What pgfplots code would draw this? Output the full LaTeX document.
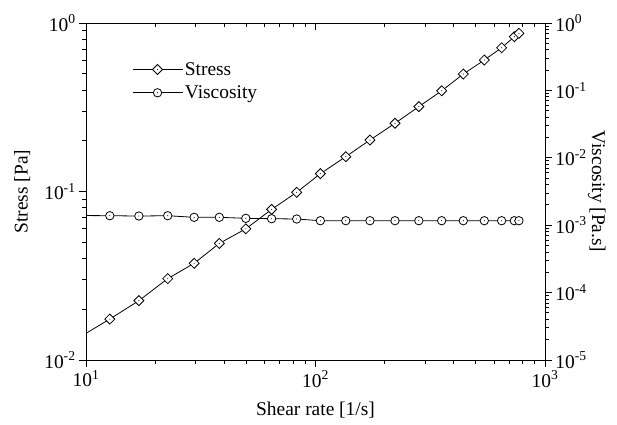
\documentclass[border=0pt]{standalone}
\usepackage{pgfplots}
\pgfplotsset{compat=1.18}
\usepackage{fontspec}
\setmainfont{Liberation Serif}
\pgfdeclareplotmark{ddiamond}{%
  \pgfpathmoveto{\pgfqpoint{0pt}{\pgfplotmarksize}}%
  \pgfpathlineto{\pgfqpoint{\pgfplotmarksize}{0pt}}%
  \pgfpathlineto{\pgfqpoint{0pt}{-\pgfplotmarksize}}%
  \pgfpathlineto{\pgfqpoint{-\pgfplotmarksize}{0pt}}%
  \pgfpathclose
  \pgfusepathqfillstroke
  \pgfscope\pgfsetfillcolor{black}%
  \pgfpathcircle{\pgfpointorigin}{0.55pt}\pgfusepathqfill
  \endpgfscope}
\pgfdeclareplotmark{dcircle}{%
  \pgfpathcircle{\pgfpointorigin}{\pgfplotmarksize}%
  \pgfusepathqfillstroke
  \pgfscope\pgfsetfillcolor{black}%
  \pgfpathcircle{\pgfpointorigin}{0.55pt}\pgfusepathqfill
  \endpgfscope}
\pgfplotstableread{
x stress visc
12.7 0.0175 1.383e-3
17.0 0.0225 1.368e-3
22.7 0.0304 1.383e-3
29.6 0.0375 1.309e-3
38.1 0.0492 1.309e-3
49.7 0.0601 1.265e-3
64.4 0.0783 1.248e-3
82.8 0.0989 1.236e-3
105 0.1276 1.166e-3
135.5 0.161 1.166e-3
172.7 0.202 1.166e-3
222 0.254 1.166e-3
282 0.319 1.166e-3
354.6 0.396 1.166e-3
440.6 0.498 1.166e-3
544 0.603 1.166e-3
647 0.713 1.166e-3
735 0.829 1.166e-3
770 0.868 1.166e-3
}\data
\pgfplotstableread{
x stress visc
10 0.0144 1.39e-3
12.7 0.0175 1.383e-3
17.0 0.0225 1.368e-3
22.7 0.0304 1.383e-3
29.6 0.0375 1.309e-3
38.1 0.0492 1.309e-3
49.7 0.0601 1.265e-3
64.4 0.0783 1.248e-3
82.8 0.0989 1.236e-3
105 0.1276 1.166e-3
135.5 0.161 1.166e-3
172.7 0.202 1.166e-3
222 0.254 1.166e-3
282 0.319 1.166e-3
354.6 0.396 1.166e-3
440.6 0.498 1.166e-3
544 0.603 1.166e-3
647 0.713 1.166e-3
735 0.829 1.166e-3
770 0.868 1.166e-3
}\linedata
\newcommand\bigf{\fontsize{19.5}{22}\selectfont}
\pgfplotsset{
  myaxis/.style={
    at={(0bp,0bp)}, anchor=south west,
    scale only axis, width=459bp, height=337bp,
    xmin=10, xmax=1000,
    major tick length=7bp, minor tick length=4bp,
    tick style={draw=black, line width=0.9pt},
    axis line style={line width=0.9pt},
    tick label style={font=\bigf},
    minor xtick={20,30,40,50,60,70,80,90,200,300,400,500,600,700,800,900},
  },
}
\begin{document}
\begin{tikzpicture}
\useasboundingbox (-86bp,-65bp) rectangle (531bp,360bp);
\begin{axis}[myaxis, xmode=log,
  ymode=log, ymin=0.01, ymax=1,
  axis x line*=bottom, axis y line*=left,
  tick align=outside,
  xtick={10,100,1000},
  xticklabels={10\textsuperscript{1},10\textsuperscript{2},10\textsuperscript{3}},
  ytick={0.01,0.1,1},
  minor ytick={0.02,0.03,0.04,0.05,0.06,0.07,0.08,0.09,0.2,0.3,0.4,0.5,0.6,0.7,0.8,0.9},
  yticklabels={10\textsuperscript{-2},10\textsuperscript{-1},10\textsuperscript{0}},
  xlabel={Shear rate [1/s]}, ylabel={Stress [Pa]},
  every axis x label/.style={at={(axis description cs:0.5,-0.148)}, anchor=center, font=\bigf},
  every axis y label/.style={at={(axis description cs:-0.139,0.5)}, anchor=center, rotate=90, font=\bigf},
]
\addplot[black, line width=0.8pt, mark=none] table[x=x,y=stress] {\linedata};
\addplot[only marks, mark=ddiamond, mark size=5bp, mark options={fill=white, line width=0.8pt}] table[x=x,y=stress] {\data};
\end{axis}
\begin{axis}[myaxis, xmode=log,
  ymode=log, ymin=1e-5, ymax=1,
  axis x line=none, axis y line*=right,
  tick align=outside,
  ytick={1e-5,1e-4,1e-3,1e-2,1e-1,1},
  minor ytick={2e-5,3e-5,4e-5,5e-5,6e-5,7e-5,8e-5,9e-5,2e-4,3e-4,4e-4,5e-4,6e-4,7e-4,8e-4,9e-4,2e-3,3e-3,4e-3,5e-3,6e-3,7e-3,8e-3,9e-3,2e-2,3e-2,4e-2,5e-2,6e-2,7e-2,8e-2,9e-2,0.2,0.3,0.4,0.5,0.6,0.7,0.8,0.9},
  yticklabels={10\textsuperscript{-5},10\textsuperscript{-4},10\textsuperscript{-3},10\textsuperscript{-2},10\textsuperscript{-1},10\textsuperscript{0}},
  ylabel={Viscosity [Pa.s]},
  every axis y label/.style={at={(axis description cs:1.113,0.5)}, anchor=center, rotate=-90, font=\bigf},
  legend style={draw=none, fill=none, at={(axis description cs:0.10,0.89)}, anchor=north west,
    font=\bigf, row sep=5bp, inner sep=0pt},
  legend cell align=left,
  legend image code/.code={\draw[mark repeat=2,mark phase=2,#1] plot coordinates {(0bp,0bp) (25bp,0bp) (50bp,0bp)};},
]
\addlegendimage{black, line width=0.8pt, mark=ddiamond, mark size=5bp, mark options={fill=white, line width=0.8pt}}
\addlegendentry{Stress}
\addlegendimage{black, line width=0.8pt, mark=dcircle, mark size=4.2bp, mark options={fill=white, line width=0.8pt}}
\addlegendentry{Viscosity}
\addplot[black, line width=0.8pt, mark=none, forget plot] table[x=x,y=visc] {\linedata};
\addplot[only marks, mark=dcircle, mark size=4.2bp, mark options={fill=white, line width=0.8pt}, forget plot] table[x=x,y=visc] {\data};
\end{axis}
\begin{axis}[myaxis, xmode=log,
  ymode=log, ymin=0.01, ymax=1,
  axis y line=none, axis x line*=top,
  tick align=inside,
  xtick={10,100,1000}, xticklabels={},
]
\end{axis}
\end{tikzpicture}
\end{document}
